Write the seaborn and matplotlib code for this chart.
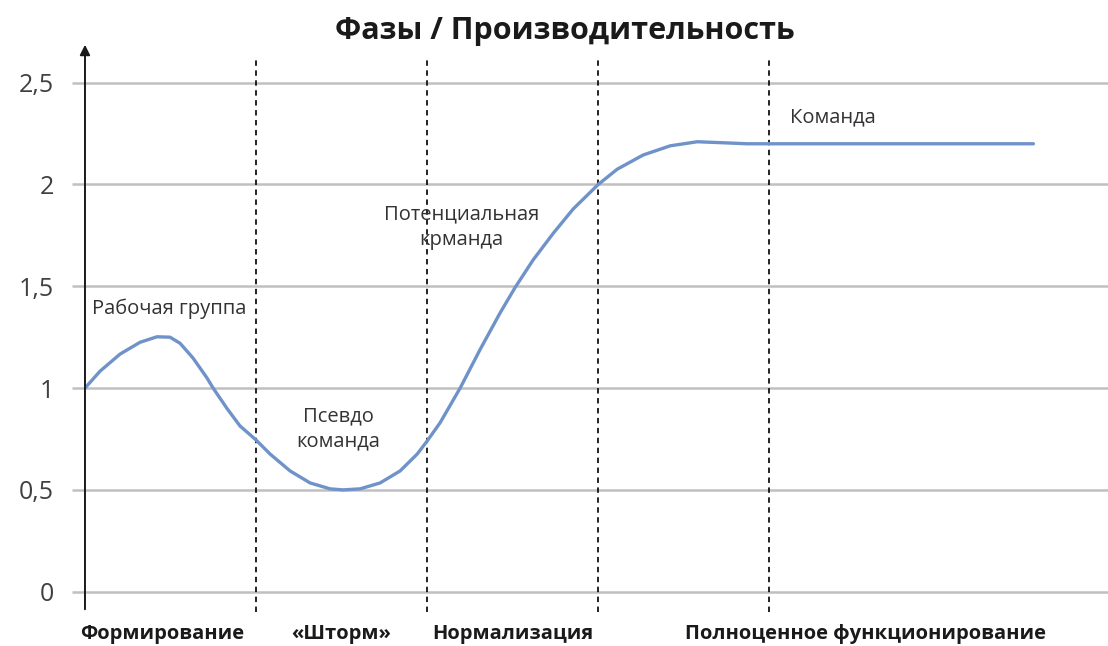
import seaborn as sns
import matplotlib.pyplot as plt
import pandas as pd

# curve (x in phase widths, y = performance)
CURVE_X = [0.0, 0.088, 0.205, 0.322, 0.421, 0.497, 0.556, 0.632, 0.713, 0.749, 0.83, 0.906,
           1.0, 1.082, 1.199, 1.316, 1.433, 1.509, 1.608, 1.725, 1.842, 1.942,
           2.0, 2.076, 2.193, 2.31, 2.427, 2.515, 2.62, 2.737, 2.854,
           3.0, 3.111, 3.263, 3.421, 3.579, 3.731, 3.871, 4.0, 5.544]
CURVE_Y = [1.0, 1.083, 1.167, 1.225, 1.252, 1.25, 1.22, 1.147, 1.05, 1.0, 0.9, 0.814,
           0.745, 0.676, 0.593, 0.534, 0.505, 0.5, 0.505, 0.534, 0.593, 0.676,
           0.74, 0.83, 1.0, 1.19, 1.37, 1.495, 1.63, 1.76, 1.88,
           2.0, 2.075, 2.145, 2.19, 2.21, 2.205, 2.2, 2.2, 2.2]

PHASE_BOUNDS = [1, 2, 3, 4]
PHASE_LABELS = ["Формирование", "«Шторм»", "Нормализация", "Полноценное функционирование"]
PHASE_CENTERS = [0.45, 1.5, 2.5, 4.56]

Y_TICKS = [0, 0.5, 1, 1.5, 2, 2.5]
Y_TICKLABELS = ["0", "0,5", "1", "1,5", "2", "2,5"]

NOTES = ["Рабочая группа", "Псевдо\nкоманда", "Потенциальная\nкрманда", "Команда"]

TITLE = "Фазы / Производительность"

sns.set_style("white")
plt.rcParams['font.family'] = ['Open Sans', 'DejaVu Sans']

df = pd.DataFrame({"phase": CURVE_X, "perf": CURVE_Y})

fig = plt.figure(figsize=(11.08, 6.46), dpi=100)
ax = fig.add_axes([0.0767, 0.0526, 0.9233, 0.8824])

ax.set_xlim(0, 5.98)
ax.set_ylim(-0.1, 2.7)

ax.set_yticks(Y_TICKS)
ax.set_yticklabels(Y_TICKLABELS, fontsize=18, color='#404040')
ax.set_xticks([])
ax.yaxis.grid(True, color='#c0c0c0', linewidth=1.8, zorder=0)
ax.tick_params(axis='y', length=9.5, width=1.8, color='#c0c0c0', pad=13, left=True)
for sp in ax.spines.values():
    sp.set_visible(False)

# vertical axis with arrow
ax.annotate("", xy=(0, 2.7), xytext=(0, -0.1),
            arrowprops=dict(arrowstyle='-|>', color='#1a1a1a', lw=1.4, mutation_scale=15),
            annotation_clip=False, zorder=5)

ax.vlines(PHASE_BOUNDS, -0.1, 2.61, colors='#111111', linestyles=(0, (3, 2.5)), linewidth=1.3, zorder=3)

sns.lineplot(data=df, x="phase", y="perf", ax=ax, color='#6f93c8', linewidth=2.4, zorder=4)
ax.set_xlabel("")
ax.set_ylabel("")

for xc, lab in zip(PHASE_CENTERS, PHASE_LABELS):
    ax.text(xc, -0.21, lab, ha='center', va='center', fontsize=14.5, fontweight='bold', color='#1a1a1a')

note_kw = dict(fontsize=14.5, color='#333333', va='center', linespacing=1.35)
ax.text(0.04, 1.39, NOTES[0], ha='left', **note_kw)
ax.text(1.48, 0.80, NOTES[1], ha='center', **note_kw)
ax.text(2.2, 1.79, NOTES[2], ha='center', **note_kw)
ax.text(4.12, 2.33, NOTES[3], ha='left', **note_kw)

fig.text(0.51, 0.952, TITLE, ha='center', va='center', fontsize=22, fontweight='bold', color='#1a1a1a')

fig.savefig("out.png", dpi=100)
